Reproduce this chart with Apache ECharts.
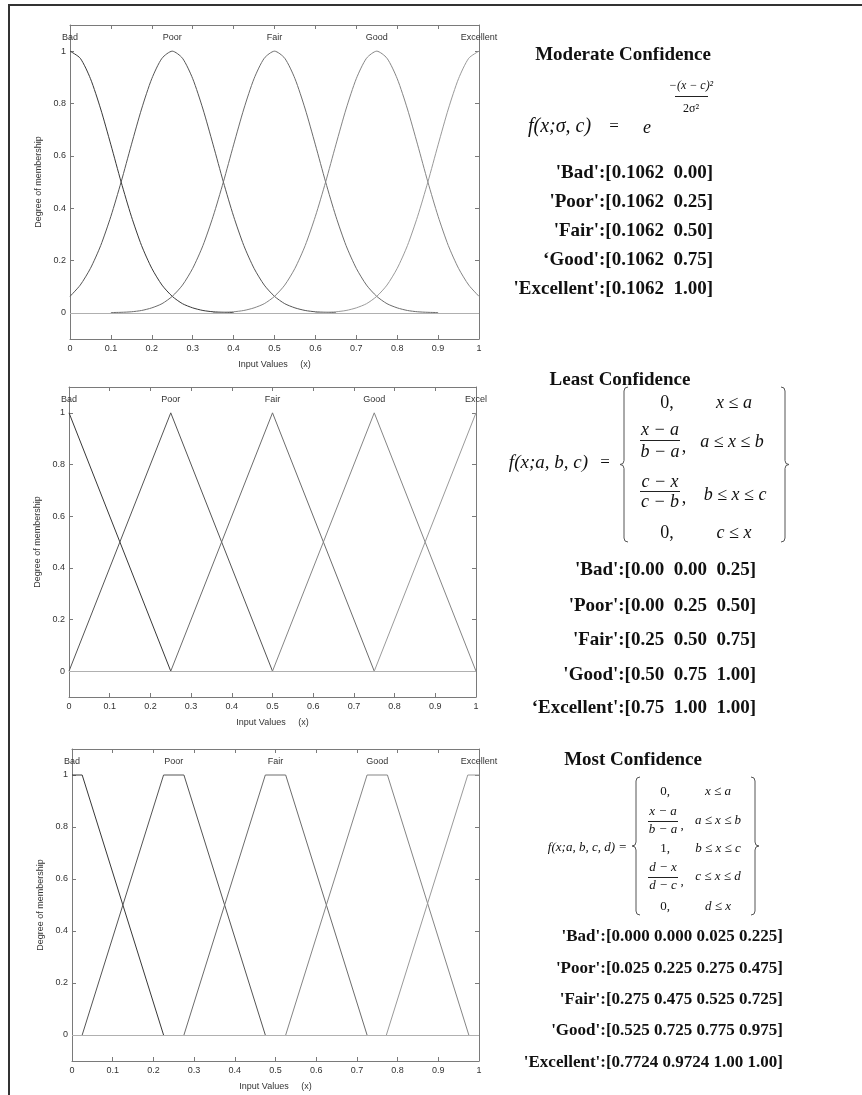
<!DOCTYPE html>
<html>
<head>
<meta charset="utf-8">
<script src="https://cdn.jsdelivr.net/npm/echarts@6/dist/echarts.min.js"></script>
<style>
  html, body { margin: 0; padding: 0; background: #fff; }
  #chart { width: 862px; height: 1095px; }
</style>
</head>
<body>
<div id="chart"></div>
<script>
// membership function names shown on top of each plot
const topLabels = [
  ["Bad", "Poor", "Fair", "Good", "Excellent"],
  ["Bad", "Poor", "Fair", "Good", "Excel"],
  ["Bad", "Poor", "Fair", "Good", "Excellent"]
];
const topLabelValues = [0, 0.25, 0.5, 0.75, 1];
const yTickValues = [0, 0.2, 0.4, 0.6, 0.8, 1];

// moderate confidence: gaussian curves every 0.025
const gaussX = [0, 0.025, 0.05, 0.075, 0.1, 0.125, 0.15, 0.175, 0.2, 0.225,
  0.25, 0.275, 0.3, 0.325, 0.35, 0.375, 0.4, 0.425, 0.45, 0.475,
  0.5, 0.525, 0.55, 0.575, 0.6, 0.625, 0.65, 0.675, 0.7, 0.725,
  0.75, 0.775, 0.8, 0.825, 0.85, 0.875, 0.9, 0.925, 0.95, 0.975, 1];
const gaussBad = [1, 0.973, 0.895, 0.779, 0.642, 0.5, 0.369, 0.257, 0.17, 0.106,
  0.063, 0.035, 0.019, 0.009, 0.004, 0.002, 0.001, null, null, null,
  null, null, null, null, null, null, null, null, null, null,
  null, null, null, null, null, null, null, null, null, null, null];
const gaussPoor = [0.063, 0.106, 0.17, 0.257, 0.369, 0.5, 0.642, 0.779, 0.895, 0.973,
  1, 0.973, 0.895, 0.779, 0.642, 0.5, 0.369, 0.257, 0.17, 0.106,
  0.063, 0.035, 0.019, 0.009, 0.004, 0.002, 0.001, null, null, null,
  null, null, null, null, null, null, null, null, null, null, null];
const gaussFair = [null, null, null, null, 0.001, 0.002, 0.004, 0.009, 0.019, 0.035,
  0.063, 0.106, 0.17, 0.257, 0.369, 0.5, 0.642, 0.779, 0.895, 0.973,
  1, 0.973, 0.895, 0.779, 0.642, 0.5, 0.369, 0.257, 0.17, 0.106,
  0.063, 0.035, 0.019, 0.009, 0.004, 0.002, 0.001, null, null, null, null];
const gaussGood = [null, null, null, null, null, null, null, null, null, null,
  null, null, null, null, 0.001, 0.002, 0.004, 0.009, 0.019, 0.035,
  0.063, 0.106, 0.17, 0.257, 0.369, 0.5, 0.642, 0.779, 0.895, 0.973,
  1, 0.973, 0.895, 0.779, 0.642, 0.5, 0.369, 0.257, 0.17, 0.106, 0.063];
const gaussExcellent = [null, null, null, null, null, null, null, null, null, null,
  null, null, null, null, null, null, null, null, null, null,
  null, null, null, null, 0.001, 0.002, 0.004, 0.009, 0.019, 0.035,
  0.063, 0.106, 0.17, 0.257, 0.369, 0.5, 0.642, 0.779, 0.895, 0.973, 1];

// least confidence: triangles
const leastBad = [[0, 1], [0.25, 0]];
const leastPoor = [[0, 0], [0.25, 1], [0.5, 0]];
const leastFair = [[0.25, 0], [0.5, 1], [0.75, 0]];
const leastGood = [[0.5, 0], [0.75, 1], [1, 0]];
const leastExcellent = [[0.75, 0], [1, 1]];

// most confidence: trapezoids
const mostBad = [[0, 1], [0.025, 1], [0.225, 0]];
const mostPoor = [[0.025, 0], [0.225, 1], [0.275, 1], [0.475, 0]];
const mostFair = [[0.275, 0], [0.475, 1], [0.525, 1], [0.725, 0]];
const mostGood = [[0.525, 0], [0.725, 1], [0.775, 1], [0.975, 0]];
const mostExcellent = [[0.7724, 0], [0.9724, 1], [1, 1]];

// parameter listings on the right
const moderateParams = ["'Bad':[0.1062  0.00]", "'Poor':[0.1062  0.25]", "'Fair':[0.1062  0.50]",
  "\u2018Good':[0.1062  0.75]", "'Excellent':[0.1062  1.00]"];
const leastParams = ["'Bad':[0.00  0.00  0.25]", "'Poor':[0.00  0.25  0.50]", "'Fair':[0.25  0.50  0.75]",
  "'Good':[0.50  0.75  1.00]", "\u2018Excellent':[0.75  1.00  1.00]"];
const mostParams = ["'Bad':[0.000 0.000 0.025 0.225]", "'Poor':[0.025 0.225 0.275 0.475]",
  "'Fair':[0.275 0.475 0.525 0.725]", "'Good':[0.525 0.725 0.775 0.975]",
  "'Excellent':[0.7724 0.9724 1.00 1.00]"];

const curveColors = ["#383838", "#555555", "#6c6c6c", "#858585", "#9a9a9a"];

const gaussSets = [gaussBad, gaussPoor, gaussFair, gaussGood, gaussExcellent];
const panels = [
  gaussSets.map(ys => gaussX.map((x, i) => [x, ys[i] === null ? "-" : ys[i]])),
  [leastBad, leastPoor, leastFair, leastGood, leastExcellent],
  [mostBad, mostPoor, mostFair, mostGood, mostExcellent]
];

const grids = [
  { left: 70, top: 25, width: 409, height: 314 },
  { left: 69, top: 387, width: 407, height: 310 },
  { left: 72, top: 749, width: 407, height: 312 }
];

const axisGray = "#7a7a7a";
const labelStyle = { color: "#333", fontSize: 9, fontFamily: "Liberation Sans" };

const xAxis = [];
const yAxis = [];
const series = [];

grids.forEach((g, p) => {
  xAxis.push({
    gridIndex: p, type: "value", min: 0, max: 1, interval: 0.1, position: "bottom",
    axisLine: { onZero: false, lineStyle: { color: axisGray } },
    axisTick: { inside: true, length: 4, lineStyle: { color: axisGray } },
    axisLabel: Object.assign({ margin: 5 }, labelStyle),
    splitLine: { show: false },
    name: "Input Values     (x)", nameLocation: "middle", nameGap: 21,
    nameTextStyle: labelStyle
  });
  xAxis.push({
    gridIndex: p, type: "value", min: 0, max: 1, interval: 0.1, position: "top",
    axisLine: { onZero: false, lineStyle: { color: axisGray } },
    axisTick: { inside: true, length: 4, lineStyle: { color: axisGray } },
    axisLabel: Object.assign({
      inside: true, margin: 8, customValues: topLabelValues,
      formatter: v => topLabels[p][Math.round(v * 4)]
    }, labelStyle),
    splitLine: { show: false }
  });
  yAxis.push({
    gridIndex: p, type: "value", min: -0.1, max: 1.1, position: "left",
    axisLine: { onZero: false, lineStyle: { color: axisGray } },
    axisTick: { inside: true, length: 4, customValues: yTickValues, lineStyle: { color: axisGray } },
    axisLabel: Object.assign({ margin: 4, customValues: yTickValues }, labelStyle),
    splitLine: { show: false },
    name: "Degree of membership", nameLocation: "middle", nameGap: 27,
    nameTextStyle: labelStyle
  });
  yAxis.push({
    gridIndex: p, type: "value", min: -0.1, max: 1.1, position: "right",
    axisLine: { onZero: false, lineStyle: { color: axisGray } },
    axisTick: { inside: true, length: 4, customValues: yTickValues, lineStyle: { color: axisGray } },
    axisLabel: { show: false },
    splitLine: { show: false }
  });

  panels[p].forEach((data, k) => {
    const s = {
      type: "line", xAxisIndex: p * 2, yAxisIndex: p * 2, data,
      symbol: "none", silent: true,
      lineStyle: { color: curveColors[k], width: 1 },
      itemStyle: { color: curveColors[k] }
    };
    if (p === 0) { s.smooth = 0.25; }
    if (k === 0) {
      s.markLine = {
        silent: true, symbol: ["none", "none"], label: { show: false },
        lineStyle: { color: "#b0b0b0", type: "solid", width: 1 },
        data: [{ yAxis: 0 }]
      };
    }
    series.push(s);
  });
});

// ---- right-hand text, formulas and frame ----
const serif = '"Liberation Serif", "Times New Roman", serif';
function txt(x, y, text, size, opt) {
  opt = opt || {};
  const align = opt.align || "center";
  const font = (opt.italic ? "italic " : "") + (opt.bold ? "bold " : "") + size + "px " + serif;
  return {
    type: "text", silent: true, z: 10,
    style: { text, x, y, font, fill: "#111", align, textAlign: align,
      verticalAlign: "middle", textVerticalAlign: "middle" }
  };
}
function seg(x1, y1, x2, y2, w, c) {
  return { type: "line", silent: true, z: 10,
    shape: { x1, y1, x2, y2 }, style: { stroke: c || "#222", lineWidth: w || 1 } };
}
function curve(x1, y1, cx, cy, x2, y2) {
  return { type: "bezierCurve", silent: true, z: 10,
    shape: { x1, y1, x2, y2, cpx1: cx, cpy1: cy },
    style: { stroke: "#555", lineWidth: 1, fill: null } };
}
// dir = 1 opening brace, -1 closing brace
function brace(x, y1, y2, dir) {
  const r = 4, ym = (y1 + y2) / 2;
  return [
    curve(x + dir * r, y1, x, y1, x, y1 + r),
    seg(x, y1 + r, x, ym - r, 1, "#555"),
    curve(x, ym - r, x, ym, x - dir * r, ym),
    curve(x - dir * r, ym, x, ym, x, ym + r),
    seg(x, ym + r, x, y2 - r, 1, "#555"),
    curve(x, y2 - r, x, y2, x + dir * r, y2)
  ];
}

const graphic = [];
// page frame
graphic.push(seg(9, 5, 862, 5, 2, "#333"));
graphic.push(seg(9, 4, 9, 1095, 2, "#333"));

// section 1
graphic.push(txt(623, 55, "Moderate Confidence", 19, { bold: true }));
graphic.push(txt(528, 127, "f(x;\u03c3, c)", 20, { italic: true, align: "left" }));
graphic.push(txt(614, 127, "=", 17));
graphic.push(txt(647, 128, "e", 18, { italic: true }));
graphic.push(txt(691, 86, "\u2212(x \u2212 c)\u00b2", 12, { italic: true }));
graphic.push(seg(675, 96.5, 708, 96.5, 1));
graphic.push(txt(691, 109, "2\u03c3\u00b2", 12));
[173, 202, 231, 260, 289].forEach((y, i) =>
  graphic.push(txt(713, y, moderateParams[i], 19, { bold: true, align: "right" })));

// section 2
graphic.push(txt(620, 380, "Least Confidence", 19, { bold: true }));
graphic.push(txt(588, 463, "f(x;a, b, c)", 19, { italic: true, align: "right" }));
graphic.push(txt(605, 463, "=", 17));
graphic.push(...brace(624, 387, 542, 1));
graphic.push(...brace(785, 387, 542, -1));
graphic.push(txt(667, 403, "0,", 18));
graphic.push(txt(734, 403, "x \u2264 a", 18, { italic: true }));
graphic.push(txt(660, 430, "x \u2212 a", 18, { italic: true }));
graphic.push(seg(640, 440.5, 680, 440.5, 1));
graphic.push(txt(660, 452, "b \u2212 a", 18, { italic: true }));
graphic.push(txt(684, 447, ",", 18));
graphic.push(txt(732, 442, "a \u2264 x \u2264 b", 18, { italic: true }));
graphic.push(txt(660, 482, "c \u2212 x", 18, { italic: true }));
graphic.push(seg(640, 491.5, 680, 491.5, 1));
graphic.push(txt(660, 502, "c \u2212 b", 18, { italic: true }));
graphic.push(txt(684, 498, ",", 18));
graphic.push(txt(735, 495, "b \u2264 x \u2264 c", 18, { italic: true }));
graphic.push(txt(667, 533, "0,", 18));
graphic.push(txt(734, 533, "c \u2264 x", 18, { italic: true }));
[570, 606, 640, 675, 708].forEach((y, i) =>
  graphic.push(txt(756, y, leastParams[i], 19, { bold: true, align: "right" })));

// section 3
graphic.push(txt(633, 760, "Most Confidence", 19, { bold: true }));
graphic.push(txt(627, 848, "f(x;a, b, c, d) =", 13, { italic: true, align: "right" }));
graphic.push(...brace(636, 777, 915, 1));
graphic.push(...brace(755, 777, 915, -1));
graphic.push(txt(665, 792, "0,", 13));
graphic.push(txt(718, 792, "x \u2264 a", 13, { italic: true }));
graphic.push(txt(663, 812, "x \u2212 a", 13, { italic: true }));
graphic.push(seg(648, 821.5, 678, 821.5, 1));
graphic.push(txt(663, 830, "b \u2212 a", 13, { italic: true }));
graphic.push(txt(682, 826, ",", 13));
graphic.push(txt(718, 821, "a \u2264 x \u2264 b", 13, { italic: true }));
graphic.push(txt(665, 849, "1,", 13));
graphic.push(txt(718, 849, "b \u2264 x \u2264 c", 13, { italic: true }));
graphic.push(txt(663, 868, "d \u2212 x", 13, { italic: true }));
graphic.push(seg(648, 877.5, 678, 877.5, 1));
graphic.push(txt(663, 886, "d \u2212 c", 13, { italic: true }));
graphic.push(txt(682, 882, ",", 13));
graphic.push(txt(718, 877, "c \u2264 x \u2264 d", 13, { italic: true }));
graphic.push(txt(665, 907, "0,", 13));
graphic.push(txt(718, 907, "d \u2264 x", 13, { italic: true }));
[937, 969, 1000, 1031, 1063].forEach((y, i) =>
  graphic.push(txt(783, y, mostParams[i], 17, { bold: true, align: "right" })));

const chart = echarts.init(document.getElementById("chart"), null, { renderer: "canvas" });
chart.setOption({
  animation: false,
  backgroundColor: "#ffffff",
  grid: grids.map(g => Object.assign({ outerBoundsMode: "none", containLabel: false }, g)),
  xAxis,
  yAxis,
  series,
  graphic
});
</script>
</body>
</html>
